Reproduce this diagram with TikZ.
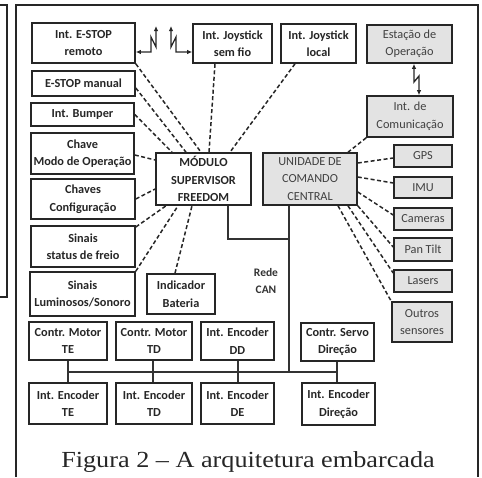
\documentclass[tikz,border=0pt]{standalone}
\usepackage{fontspec}
\setmainfont{Liberation Serif}
\newfontfamily\boxfont{Carlito}
\newfontfamily\capfont{Liberation Serif}[FakeStretch=1.14]
\usetikzlibrary{arrows.meta,calc}

\begin{document}
\begin{tikzpicture}[x=1pt,y=-1pt,
  sz/.style 2 args={minimum width=#1pt, minimum height=#2pt},
  blk/.style={draw=black!85, line width=1.6pt, inner sep=0pt, align=center,
    font=\boxfont\bfseries\fontsize{12.3}{17.5}\selectfont, text=black!85},
  gry/.style={blk, fill=black!11, font=\boxfont\fontsize{12.3}{17.5}\selectfont, text=black!75},
  dl/.style={draw=black!85, line width=1.5pt, dash pattern=on 4pt off 2.5pt},
  wl/.style={draw=black!85, line width=1.3pt,
    {Latex[length=5pt,width=4.5pt]}-{Latex[length=5pt,width=4.5pt]}},
  bus/.style={draw=black!80, line width=1.6pt},
  frm/.style={draw=black!85, line width=1.6pt}
]
\useasboundingbox (0,0) rectangle (482,477);

% page frames
\draw[frm] (0,5) -- (7,5) -- (7,297) -- (0,297);
\draw[frm] (16,477) -- (16,5) -- (478,5) -- (478,477);

% left column of inputs
\node[blk, sz={103}{40}] (eremoto) at (83.5,43)   {Int. E-STOP\\remoto};
\node[blk, sz={103}{25}] (emanual) at (83.5,83.5) {E-STOP manual};
\node[blk, sz={103}{23}] (bumper)  at (82.5,114.5){Int. Bumper};
\node[blk, sz={103}{41}] (chave)   at (82.5,153.5){Chave\\Modo de Operação};
\node[blk, sz={104}{40}] (chaves)  at (83,199)    {Chaves\\Configuração};
\node[blk, sz={104}{41}] (freio)   at (83,246.5)  {Sinais\\status de freio};
\node[blk, sz={105}{44}] (lumin)   at (82.5,294)  {Sinais\\Luminosos/Sonoro};
\node[blk, sz={68}{40}]  (bateria) at (181,294)   {Indicador\\Bateria};

% top row
\node[blk, sz={79}{39}] (semfio)  at (232.5,43.5) {Int. Joystick\\sem fio};
\node[blk, sz={75}{39}] (jlocal)  at (318.5,43.5) {Int. Joystick\\local};
\node[gry, sz={85}{38}] (estacao) at (409.5,44)   {Estação de\\Operação};
\node[gry, sz={86}{41}] (comun)   at (410,116.5)  {Int. de\\Comunicação};

% central units
\node[blk, sz={95}{52}] (modulo)  at (203.5,179) {MÓDULO\\SUPERVISOR\\FREEDOM};
\node[gry, sz={94}{52}] (unidade) at (310,179)   {UNIDADE DE\\COMANDO\\CENTRAL};

% sensors
\node[gry, sz={58}{22}] (gps)     at (423,156)   {GPS};
\node[gry, sz={58}{21}] (imu)     at (423,187.5) {IMU};
\node[gry, sz={58}{22}] (cameras) at (423,219)   {Cameras};
\node[gry, sz={58}{23}] (pantilt) at (423,249.5) {Pan Tilt};
\node[gry, sz={58}{22}] (lasers)  at (423,281)   {Lasers};
\node[gry, sz={60}{40}] (outros)  at (422,322)   {Outros\\sensores};

% drive units on the CAN bus
\node[blk, sz={78}{38}] (cmte)  at (68,341)    {Contr. Motor\\TE};
\node[blk, sz={76}{38}] (cmtd)  at (154,341)   {Contr. Motor\\TD};
\node[blk, sz={73}{38}] (iedd)  at (237.5,341) {Int. Encoder\\DD};
\node[blk, sz={73}{38}] (servo) at (337.5,342) {Contr. Servo\\Direção};
\node[blk, sz={78}{41}] (iete)  at (68,403.5)  {Int. Encoder\\TE};
\node[blk, sz={76}{41}] (ietd)  at (154,403.5) {Int. Encoder\\TD};
\node[blk, sz={73}{41}] (iede)  at (237.5,403.5) {Int. Encoder\\DE};
\node[blk, sz={73}{42}] (iedir) at (338.5,404) {Int. Encoder\\Direção};

% CAN bus
\coordinate (busL) at (68,372);
\coordinate (busR) at (337,372);
\draw[bus] (busL) -- (busR);
\draw[bus] (cmte.south -| 68,0)   -- (iete.north -| 68,0);
\draw[bus] (cmtd.south -| 153,0)  -- (ietd.north -| 153,0);
\draw[bus] (iedd.south -| 238,0)  -- (iede.north -| 238,0);
\draw[bus] (servo.south -| 337,0) -- (iedir.north -| 337,0);
\draw[bus] (unidade.south -| 289,0) -- (busR -| 289,0);
\draw[bus] (modulo.south -| 228,0) -- (228,239) -- (289,239);
\node[font=\boxfont\bfseries\fontsize{11.5}{17}\selectfont, text=black!80, align=center]
  (can) at (266,281) {Rede\\CAN};

% dashed links into the supervisor module
\draw[dl] (eremoto.south east) -- (modulo.north -| 201,0);
\draw[dl] (emanual.east |- 0,88) -- (modulo.north -| 186,0);
\draw[dl] (bumper.east) -- (modulo.north -| 172,0);
\draw[dl] (chave.east |- 0,155) -- (modulo.west |- 0,160);
\draw[dl] (chaves.east) -- (modulo.west |- 0,189);
\draw[dl] (freio.east |- 0,227) -- (modulo.south -| 166,0);
\draw[dl] (lumin.north east) -- (modulo.south -| 178,0);
\draw[dl] (bateria.north -| 175,0) -- (modulo.south -| 192,0);
\draw[dl] (semfio.south -| 215,0) -- (modulo.north -| 209,0);
\draw[dl] (jlocal.south -| 295,0) -- (modulo.north -| 230,0);

% dashed links from the central unit
\draw[dl] (comun.south west) -- (unidade.north -| 348,0);
\draw[dl] (unidade.east |- 0,163) -- (gps.west |- 0,158);
\draw[dl] (unidade.east |- 0,177) -- (imu.west |- 0,183);
\draw[dl] (unidade.east |- 0,192) -- (cameras.west |- 0,215);
\draw[dl] (unidade.south east) -- (pantilt.west |- 0,247);
\draw[dl] (unidade.south -| 348,0) -- (lasers.west |- 0,273);
\draw[dl] (unidade.south -| 338,0) -- (outros.north west);

% wireless links
\draw[wl] (eremoto.east |- 0,52) -- (151,52) -- (151,37) -- (156,47) -- (156,26);
\draw[wl] (semfio.west |- 0,52) -- (176,52) -- (176,37) -- (171,47) -- (171,26);
\draw[wl] (estacao.south -| 414,0) -- (414,82) -- (419,76) -- (comun.north -| 419,0);

% caption
\node[font=\capfont\fontsize{23}{25}\selectfont, anchor=base, text=black!85] (cap) at (248,467)
  {Figura 2 – A arquitetura embarcada};
\end{tikzpicture}
\end{document}
